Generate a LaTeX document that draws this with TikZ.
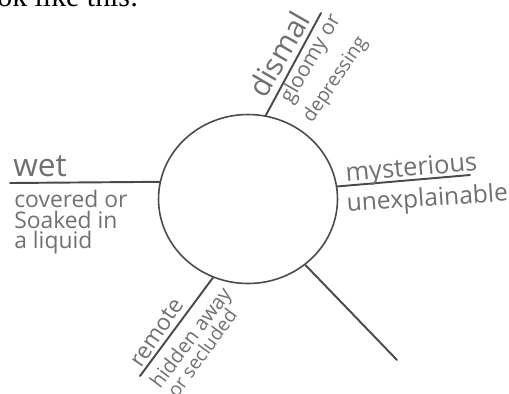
\documentclass[tikz,border=0pt]{standalone}
\usepackage{fontspec}
\setmainfont{Open Sans}
\newfontfamily\printfont{Liberation Serif}
\usetikzlibrary{positioning,shapes.geometric}
\definecolor{pencil}{HTML}{4A4A4A}
\definecolor{lead}{HTML}{707070}

\begin{document}
\begin{tikzpicture}[
    x=0.02cm, y=-0.02cm,
    hand/.style = {text=lead, inner sep=0pt, anchor=base west,
                   font=\fontsize{#1}{#1}\selectfont},
    hand/.default = 13,
    stroke/.style = {draw=pencil, line width=1.1pt, line cap=round}
]
\useasboundingbox (0,0) rectangle (509,393);

% Caption cut off by the page
\node[anchor=base west, inner sep=0pt, font=\printfont\fontsize{17}{17}\selectfont]
    (caption) at (-3,6) {ok like this:};

% Centre word
\node[ellipse, draw=pencil, line width=0.9pt,
      minimum width=3.58cm, minimum height=3.38cm] (word) at (248,199) {};

% Free ends of the spokes
\coordinate (up)    at (321,13);
\coordinate (left)  at (10,183);
\coordinate (right) at (470,175);
\coordinate (down)  at (140,376);
\coordinate (spare) at (397,360);

% Spokes
\draw[stroke] (word.78)  -- (up);
\draw[stroke] (word.169) -- (left);
\draw[stroke] (word.8)   -- (right);
\draw[stroke] (word.246) -- (down);
\draw[stroke] (word.311) -- (spare);

% Top spoke
\node[hand=17, rotate=60] (dismal)     at (265,100) {dismal};
\node[hand=12, rotate=60] (gloomy)     at (291,105) {gloomy or};
\node[hand=11, rotate=56] (depressing) at (312,124) {depressing};

% Left spoke
\node[hand=18] (wet)     at (13,176) {wet};
\node[hand=13] (covered) at (14,207) {covered or};
\node[hand=13] (soaked)  at (14,228) {Soaked in};
\node[hand=13] (liquid)  at (14,248) {a liquid};

% Right spoke
\node[hand=14.5, rotate=5] (mysterious)    at (346,182) {mysterious};
\node[hand=14, rotate=4]   (unexplainable) at (347,212) {unexplainable};

% Bottom spoke
\node[hand=13, rotate=56]   (remote)   at (141,369) {remote};
\node[hand=11.5, rotate=53] (hidden)   at (160,390) {hidden away};
\node[hand=10.8, rotate=54] (secluded) at (177,399) {or secluded};

\end{tikzpicture}
\end{document}
